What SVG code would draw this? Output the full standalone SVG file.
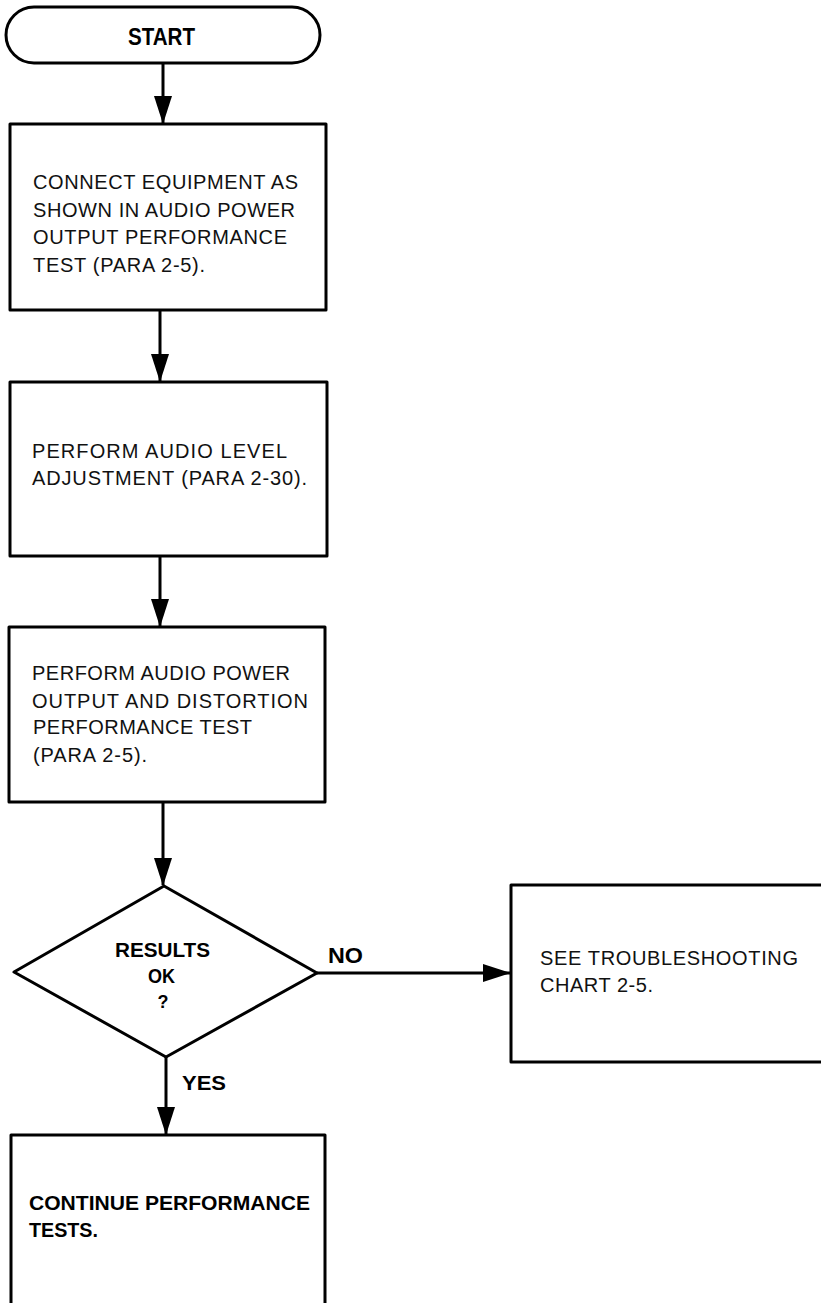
<svg xmlns="http://www.w3.org/2000/svg" width="821" height="1303" viewBox="0 0 821 1303">
<style>
.shape{fill:none;stroke:#000;stroke-width:3;stroke-linejoin:round}
.line{fill:none;stroke:#000;stroke-width:3}
.t{font-family:"Liberation Sans",Arial,sans-serif;font-size:20px;fill:#111}
.b{font-family:"Liberation Sans",Arial,sans-serif;font-size:21px;font-weight:bold;fill:#000}
</style>
<defs>
<marker id="arrow" markerUnits="userSpaceOnUse" markerWidth="28" markerHeight="18" refX="27" refY="9" orient="auto" viewBox="0 0 28 18">
<path d="M0,0 L28,9 L0,18 Z" fill="#000"/>
</marker>
</defs>
<rect width="821" height="1303" fill="#fff"/>
<g id="connectors">
<line class="line" x1="163" y1="63" x2="163" y2="123" marker-end="url(#arrow)"/>
<line class="line" x1="160" y1="310" x2="160" y2="381" marker-end="url(#arrow)"/>
<line class="line" x1="160" y1="556" x2="160" y2="626" marker-end="url(#arrow)"/>
<line class="line" x1="163" y1="802" x2="163" y2="885" marker-end="url(#arrow)"/>
<line class="line" x1="317" y1="973" x2="510" y2="973" marker-end="url(#arrow)"/>
<line class="line" x1="166" y1="1057" x2="166" y2="1134" marker-end="url(#arrow)"/>
<text class="b" x="328" y="963" style="font-size:22px" textLength="35" lengthAdjust="spacingAndGlyphs">NO</text>
<text class="b" x="182" y="1090" textLength="44" lengthAdjust="spacingAndGlyphs">YES</text>
</g>
<g id="start">
<rect class="shape" x="6" y="7" width="314" height="56" rx="28" ry="28"/>
<text class="b" x="128" y="45" style="font-size:23px" textLength="67" lengthAdjust="spacingAndGlyphs">START</text>
</g>
<g id="connect">
<rect class="shape" x="10" y="124" width="316" height="186"/>
<text class="t" x="33" y="189" textLength="265" lengthAdjust="spacing">CONNECT EQUIPMENT AS</text>
<text class="t" x="33" y="217" textLength="262" lengthAdjust="spacing">SHOWN IN AUDIO POWER</text>
<text class="t" x="33" y="244" textLength="254" lengthAdjust="spacing">OUTPUT PERFORMANCE</text>
<text class="t" x="33" y="272" textLength="172" lengthAdjust="spacing">TEST (PARA 2-5).</text>
</g>
<g id="level">
<rect class="shape" x="10" y="382" width="317" height="174"/>
<text class="t" x="32" y="458" textLength="255" lengthAdjust="spacing">PERFORM AUDIO LEVEL</text>
<text class="t" x="32" y="485" textLength="275" lengthAdjust="spacing">ADJUSTMENT (PARA 2-30).</text>
</g>
<g id="power">
<rect class="shape" x="9" y="627" width="316" height="175"/>
<text class="t" x="32" y="680" textLength="258" lengthAdjust="spacing">PERFORM AUDIO POWER</text>
<text class="t" x="32" y="708" textLength="276" lengthAdjust="spacing">OUTPUT AND DISTORTION</text>
<text class="t" x="33" y="734" textLength="219" lengthAdjust="spacing">PERFORMANCE TEST</text>
<text class="t" x="33" y="762" textLength="114" lengthAdjust="spacing">(PARA 2-5).</text>
</g>
<g id="decision">
<polygon class="shape" points="164,886 317,973 166,1057 14,972"/>
<text class="b" x="115" y="957" textLength="95" lengthAdjust="spacingAndGlyphs">RESULTS</text>
<text class="b" x="148" y="983" textLength="27" lengthAdjust="spacingAndGlyphs">OK</text>
<text class="b" x="163" y="1008" style="font-size:18px" text-anchor="middle">?</text>
</g>
<g id="troubleshoot">
<path class="shape" d="M824,885 L511,885 L511,1062 L824,1062"/>
<text class="t" x="540" y="965" textLength="258" lengthAdjust="spacing">SEE TROUBLESHOOTING</text>
<text class="t" x="540" y="992" textLength="113" lengthAdjust="spacing">CHART 2-5.</text>
</g>
<g id="continue">
<path class="shape" d="M11,1306 L11,1135 L325,1135 L325,1306"/>
<text class="b" x="29" y="1210" textLength="281" lengthAdjust="spacingAndGlyphs">CONTINUE PERFORMANCE</text>
<text class="b" x="29" y="1237" textLength="69" lengthAdjust="spacingAndGlyphs">TESTS.</text>
</g>
</svg>
